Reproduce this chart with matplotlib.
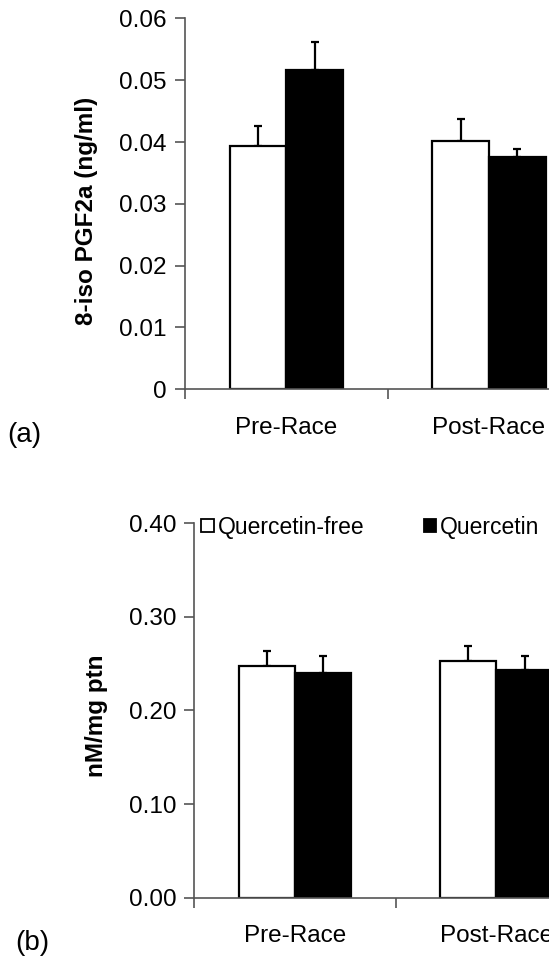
import matplotlib
matplotlib.use('Agg')
import matplotlib.pyplot as plt
from matplotlib.patches import Patch
import numpy as np

plt.rcParams['font.family'] = ['Liberation Sans', 'DejaVu Sans']

groups = ['Pre-Race', 'Post-Race']
series = ['Quercetin-free', 'Quercetin']

# panel (a): 8-iso PGF2a
iso_free = [0.0394, 0.0402]
iso_quer = [0.0516, 0.0375]
iso_free_err = [0.0032, 0.0036]
iso_quer_err = [0.0045, 0.0013]
iso_ticks = [0, 0.01, 0.02, 0.03, 0.04, 0.05, 0.06]
iso_ticklabels = ['0', '0.01', '0.02', '0.03', '0.04', '0.05', '0.06']

# panel (b): nM/mg ptn
ptn_free = [0.248, 0.2526]
ptn_quer = [0.2404, 0.2433]
ptn_free_err = [0.015, 0.016]
ptn_quer_err = [0.0178, 0.0152]
ptn_ticks = [0, 0.1, 0.2, 0.3, 0.4]
ptn_ticklabels = ['0.00', '0.10', '0.20', '0.30', '0.40']

fs = 17.5
axcol = '#555555'


def draw_panel(ax, free, quer, free_err, quer_err, ticks, ticklabels, ylabel, labelpos):
    x = np.arange(len(groups)) + 0.5
    w = 0.28
    ax.bar(x - w / 2, free, w, color='white', edgecolor='black', linewidth=1.6, zorder=2)
    ax.bar(x + w / 2, quer, w, color='black', edgecolor='black', linewidth=1.6, zorder=2)
    ax.errorbar(x - w / 2, free, yerr=[np.zeros(2), free_err], fmt='none', ecolor='black',
                elinewidth=1.6, capsize=3, capthick=1.6, zorder=1)
    ax.errorbar(x + w / 2, quer, yerr=[np.zeros(2), quer_err], fmt='none', ecolor='black',
                elinewidth=1.6, capsize=3, capthick=1.6, zorder=1)
    ax.set_xlim(0, 2)
    ax.set_ylim(ticks[0], ticks[-1])
    ax.set_yticks(ticks)
    ax.set_yticklabels(ticklabels, fontsize=fs)
    ax.set_xticks([0, 1, 2])
    ax.set_xticklabels([])
    ax.set_xticks(x, minor=True)
    ax.set_xticklabels(groups, minor=True, fontsize=fs)
    ax.tick_params(axis='x', which='minor', length=0, pad=20)
    ax.tick_params(axis='x', which='major', length=7, color=axcol, width=1.2)
    ax.tick_params(axis='y', length=7, color=axcol, width=1.2, pad=6)
    for s in ['top', 'right']:
        ax.spines[s].set_visible(False)
    for s in ['left', 'bottom']:
        ax.spines[s].set_color(axcol)
        ax.spines[s].set_linewidth(1.2)
    ax.set_ylabel(ylabel, fontsize=fs, fontweight='bold')
    ax.yaxis.set_label_coords(*labelpos)


fig = plt.figure(figsize=(5.49, 9.61), dpi=100)

ax1 = fig.add_axes([0.337, 0.5949, 0.7384, 0.386])
draw_panel(ax1, iso_free, iso_quer, iso_free_err, iso_quer_err, iso_ticks, iso_ticklabels,
           '8-iso PGF2a (ng/ml)', (-0.215, 0.48))

ax2 = fig.add_axes([0.3539, 0.0659, 0.7337, 0.3896])
draw_panel(ax2, ptn_free, ptn_quer, ptn_free_err, ptn_quer_err, ptn_ticks, ptn_ticklabels,
           'nM/mg ptn', (-0.215, 0.485))

handles = [Patch(facecolor='white', edgecolor='black', linewidth=1.3),
           Patch(facecolor='black', edgecolor='black', linewidth=1.3)]
ax2.legend(handles, series, loc='upper left', bbox_to_anchor=(-0.005, 1.045), ncol=2,
           frameon=False, fontsize=16.5, handlelength=0.55, handleheight=0.55,
           handletextpad=0.15, columnspacing=2.6, borderaxespad=0)

fig.text(7 / 549, 1 - 435 / 961, '(a)', fontsize=20, va='center', ha='left')
fig.text(15 / 549, 1 - 943 / 961, '(b)', fontsize=20, va='center', ha='left')

fig.savefig('out.png', dpi=100)
